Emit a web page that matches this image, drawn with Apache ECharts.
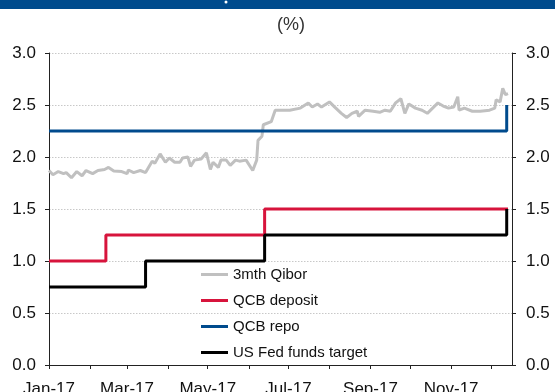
<!DOCTYPE html>
<html><head><meta charset="utf-8">
<script src="https://cdn.jsdelivr.net/npm/echarts@6/dist/echarts.min.js"></script>
<style>html,body{margin:0;padding:0;background:#fff}#c{width:555px;height:392px}</style>
</head><body><div id="c"></div>
<script>
const seriesNames = ['3mth Qibor', 'QCB deposit', 'QCB repo', 'US Fed funds target'];
const unitLabel = '(%)';

const qiborDates = ['2017-01-01','2017-01-04','2017-01-08','2017-01-12','2017-01-14','2017-01-18','2017-01-22','2017-01-26','2017-01-29','2017-02-03','2017-02-07','2017-02-12','2017-02-15','2017-02-19','2017-02-25','2017-03-01','2017-03-02','2017-03-06','2017-03-11','2017-03-15','2017-03-20','2017-03-22','2017-03-26','2017-03-30','2017-04-02','2017-04-06','2017-04-10','2017-04-12','2017-04-16','2017-04-18','2017-04-21','2017-04-26','2017-04-30','2017-05-03','2017-05-05','2017-05-09','2017-05-11','2017-05-15','2017-05-18','2017-05-22','2017-05-25','2017-05-30','2017-06-04','2017-06-07','2017-06-08','2017-06-11','2017-06-12','2017-06-18','2017-06-21','2017-06-25','2017-07-02','2017-07-10','2017-07-16','2017-07-19','2017-07-23','2017-07-26','2017-08-01','2017-08-05','2017-08-10','2017-08-14','2017-08-18','2017-08-22','2017-08-23','2017-08-28','2017-09-03','2017-09-08','2017-09-12','2017-09-16','2017-09-20','2017-09-24','2017-09-27','2017-09-30','2017-10-05','2017-10-10','2017-10-14','2017-10-22','2017-10-26','2017-10-30','2017-11-03','2017-11-06','2017-11-07','2017-11-11','2017-11-17','2017-11-23','2017-11-30','2017-12-04','2017-12-05','2017-12-08','2017-12-10','2017-12-12','2017-12-14'];
const qiborValues = [1.87,1.83,1.86,1.84,1.85,1.80,1.86,1.82,1.87,1.84,1.87,1.88,1.90,1.865,1.86,1.84,1.875,1.85,1.87,1.85,1.96,1.94,2.03,1.95,1.99,1.95,1.95,1.99,2.00,1.91,1.97,1.98,2.04,1.88,1.95,1.90,1.97,1.97,1.92,1.97,1.96,1.97,1.87,1.97,2.16,2.20,2.31,2.34,2.45,2.45,2.45,2.47,2.52,2.48,2.51,2.48,2.53,2.48,2.42,2.38,2.42,2.44,2.39,2.45,2.44,2.43,2.45,2.44,2.52,2.56,2.42,2.51,2.47,2.45,2.42,2.52,2.49,2.47,2.48,2.58,2.45,2.47,2.44,2.44,2.45,2.47,2.55,2.53,2.66,2.60,2.61];

const depositDates = ['2017-01-01','2017-02-13','2017-06-13','2017-12-14'];
const depositValues = [1.00, 1.25, 1.50, 1.50];
const repoDates = ['2017-01-01','2017-12-13'];
const repoValues = [2.25, 2.50];
const fedDates = ['2017-01-01','2017-03-15','2017-06-13','2017-12-13'];
const fedValues = [0.75, 1.00, 1.25, 1.50];

const axisStart = '2017-01-01';
const axisEnd = '2017-12-17';
const xTickDates = ['2017-01-01','2017-02-01','2017-03-01','2017-04-01','2017-05-01','2017-06-01','2017-07-01','2017-08-01','2017-09-01','2017-10-01','2017-11-01','2017-12-01'];
const xLabelDates = ['2017-01-01','2017-03-01','2017-05-01','2017-07-01','2017-09-01','2017-11-01'];
const xLabelTexts = ['Jan-17','Mar-17','May-17','Jul-17','Sep-17','Nov-17'];
const yMin = 0, yMax = 3.0, yStep = 0.5;

function dayOf(s) {
  const p = s.split('-').map(Number);
  const a = Date.UTC(p[0], p[1] - 1, p[2]);
  const p0 = axisStart.split('-').map(Number);
  return Math.round((a - Date.UTC(p0[0], p0[1] - 1, p0[2])) / 86400000);
}
function pairs(dates, vals) { return dates.map((d, i) => [dayOf(d), vals[i]]); }

const labelMap = {};
xLabelDates.forEach((d, i) => { labelMap[dayOf(d)] = xLabelTexts[i]; });

const FONT = "'Liberation Sans', Arial, sans-serif";
const chart = echarts.init(document.getElementById('c'), null, {renderer: 'canvas'});

const yAxisBase = {
  type: 'value', min: yMin, max: yMax, interval: yStep,
  axisLine: {show: true, lineStyle: {color: '#222', width: 1}},
  axisTick: {show: true, inside: false, length: 4, lineStyle: {color: '#222'}},
  axisLabel: {fontFamily: FONT, fontSize: 17, color: '#111', formatter: v => v.toFixed(1)},
};

chart.setOption({
  animation: false,
  backgroundColor: '#fff',
  title: {
    text: unitLabel, left: 272, top: 11,
    textStyle: {fontFamily: FONT, fontSize: 18, fontWeight: 'normal', color: '#333'}
  },
  graphic: [
    {type: 'rect', left: 0, top: 0, shape: {width: 555, height: 9}, style: {fill: '#004b8d'}, silent: true},
    {type: 'circle', shape: {cx: 226, cy: 2, r: 1.5}, style: {fill: '#fff'}, silent: true}
  ],
  grid: {left: 49, right: 43, top: 53, bottom: 27, containLabel: false, outerBoundsMode: 'none'},
  legend: {
    orient: 'vertical', left: 196, top: 262,
    itemWidth: 27, itemHeight: 3, itemGap: 11, icon: 'rect',
    textStyle: {fontFamily: FONT, fontSize: 15, color: '#111', lineHeight: 15},
    data: seriesNames
  },
  xAxis: {
    type: 'value', min: 0, max: dayOf(axisEnd),
    axisLine: {show: true, onZero: false, lineStyle: {color: '#222', width: 1}},
    axisTick: {show: true, length: 4, customValues: xTickDates.map(dayOf), lineStyle: {color: '#222'}},
    axisLabel: {
      customValues: xLabelDates.map(dayOf),
      formatter: v => labelMap[v] || '',
      fontFamily: FONT, fontSize: 17, color: '#111', margin: 16
    },
    splitLine: {show: false}
  },
  yAxis: [
    Object.assign({}, yAxisBase, {
      position: 'left',
      axisLabel: Object.assign({}, yAxisBase.axisLabel, {margin: 13}),
      splitLine: {show: true, lineStyle: {color: '#c8c8c8', type: [1.5, 1.5], width: 1}}
    }),
    Object.assign({}, yAxisBase, {
      position: 'right',
      axisLabel: Object.assign({}, yAxisBase.axisLabel, {margin: 14}),
      splitLine: {show: false}
    })
  ],
  series: [
    {name: seriesNames[0], type: 'line', showSymbol: false, symbol: 'none', data: pairs(qiborDates, qiborValues),
     lineStyle: {color: '#c0c0c0', width: 3}, itemStyle: {color: '#c0c0c0'}},
    {name: seriesNames[1], type: 'line', step: 'end', showSymbol: false, symbol: 'none', data: pairs(depositDates, depositValues),
     lineStyle: {color: '#d7143c', width: 3}, itemStyle: {color: '#d7143c'}},
    {name: seriesNames[2], type: 'line', step: 'end', showSymbol: false, symbol: 'none', data: pairs(repoDates, repoValues),
     lineStyle: {color: '#004b8d', width: 3}, itemStyle: {color: '#004b8d'}},
    {name: seriesNames[3], type: 'line', step: 'end', showSymbol: false, symbol: 'none', data: pairs(fedDates, fedValues),
     lineStyle: {color: '#000', width: 3}, itemStyle: {color: '#000'}}
  ]
});
</script>
</body></html>
